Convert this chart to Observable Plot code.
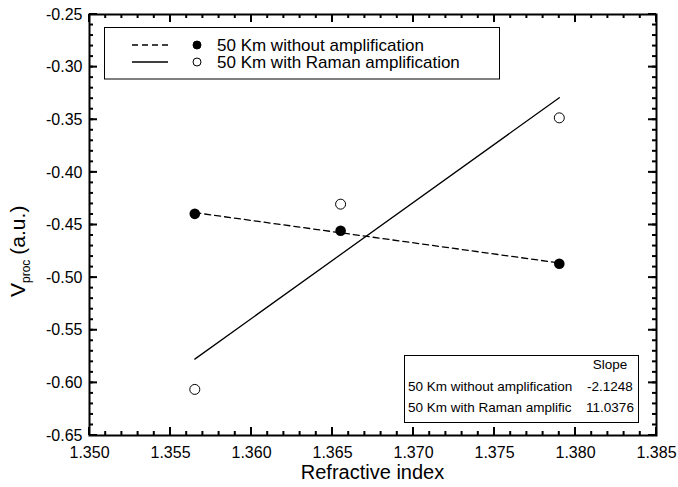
<!DOCTYPE html>
<html>
<head>
<meta charset="utf-8">
<script src="https://cdn.jsdelivr.net/npm/d3@7"></script>
<script src="https://cdn.jsdelivr.net/npm/@observablehq/plot@0.6"></script>
<style>
  html, body { margin: 0; padding: 0; background: #fff; }
  #chart svg { display: block; }
</style>
</head>
<body>
<div id="chart"></div>
<script>
// Refractive index of the three samples (shared by both series)
const refractiveIndex = [1.3565, 1.3655, 1.3790];
// Processed signal over a 50 km link, no amplification
const vprocWithout = [-0.4394, -0.4555, -0.4868];
// Processed signal over a 50 km link with Raman amplification
const vprocRaman = [-0.6062, -0.4302, -0.3482];
// Series names as written in the legend and in the slope table
const legendNames = ["50 Km without amplification", "50 Km with Raman amplification"];
const tableNames = ["50 Km without amplification", "50 Km with Raman amplific"];
// Slopes of the two linear fits
const fitSlopes = [-2.1248, 11.0376];
const slopeLabels = ["-2.1248", "11.0376"];
// Labelled ticks
const xTicks = [1.350, 1.355, 1.360, 1.365, 1.370, 1.375, 1.380, 1.385];
const yTicks = [-0.65, -0.60, -0.55, -0.50, -0.45, -0.40, -0.35, -0.30, -0.25];

const FONT = "'Liberation Sans', Arial, Helvetica, sans-serif";

// minor ticks: four between each pair of labelled ticks
const xMinor = d3.range(0, 36).map(i => 1.35 + i * 0.001);
const yMinor = d3.range(0, 41).map(i => -0.65 + i * 0.01);

const pts = (ys) => refractiveIndex.map((x, i) => ({x, y: ys[i]}));
const withoutPts = pts(vprocWithout);
const ramanPts = pts(vprocRaman);

// straight fit through the centroid with the tabulated slope, over the data range
function fitLine(points, slope) {
  const mx = d3.mean(points, d => d.x), my = d3.mean(points, d => d.y);
  const [x0, x1] = d3.extent(points, d => d.x);
  return [x0, x1].map(x => ({x, y: my + slope * (x - mx)}));
}
const fitWithout = fitLine(withoutPts, fitSlopes[0]);
const fitRaman = fitLine(ramanPts, fitSlopes[1]);

const W = 678, H = 487;
const mL = 89, mR = 22, mT = 14, mB = 52;
const innerW = W - mL - mR, innerH = H - mT - mB;

const chart = Plot.plot({
  width: W,
  height: H,
  marginLeft: mL,
  marginRight: mR,
  marginTop: mT,
  marginBottom: mB,
  style: {fontFamily: FONT, fontSize: "16px", color: "#000", background: "#fff"},
  x: {domain: [1.35, 1.385]},
  y: {domain: [-0.65, -0.25]},
  marks: [
    // tick labels
    Plot.axisX(xTicks, {anchor: "bottom", tickSize: 0, tickPadding: 11, label: null,
      tickFormat: d => d.toFixed(3), fontSize: 16}),
    Plot.axisY(yTicks, {anchor: "left", tickSize: 0, tickPadding: 7, label: null,
      tickFormat: d => d.toFixed(2), fontSize: 16}),
    Plot.frame({stroke: "#000", strokeWidth: 2}),
    // linear fits
    Plot.line(fitWithout, {x: "x", y: "y", stroke: "#000", strokeWidth: 1.3, strokeDasharray: "6,4"}),
    Plot.line(fitRaman, {x: "x", y: "y", stroke: "#000", strokeWidth: 1.3}),
    // measurements
    Plot.dot(withoutPts, {x: "x", y: "y", r: 5.3, fill: "#000", stroke: "none"}),
    Plot.dot(ramanPts, {x: "x", y: "y", r: 5, fill: "#fff", stroke: "#000", strokeWidth: 1})
  ]
});

document.getElementById("chart").appendChild(chart);

const svg = d3.select(chart);
const sx = chart.scale("x"), sy = chart.scale("y");
const frameLeft = mL, frameRight = W - mR, frameTop = mT, frameBottom = H - mB;

// inward-pointing ticks on all four sides, placed with the plot's own scales
const tk = svg.append("g")
  .attr("stroke", "#000").attr("stroke-width", 2).attr("fill", "none");
function drawTicks(xv, yv, size) {
  xv.forEach(v => {
    const px = sx.apply(v);
    tk.append("line").attr("x1", px).attr("x2", px).attr("y1", frameBottom).attr("y2", frameBottom - size);
    tk.append("line").attr("x1", px).attr("x2", px).attr("y1", frameTop).attr("y2", frameTop + size);
  });
  yv.forEach(v => {
    const py = sy.apply(v);
    tk.append("line").attr("y1", py).attr("y2", py).attr("x1", frameLeft).attr("x2", frameLeft + size);
    tk.append("line").attr("y1", py).attr("y2", py).attr("x1", frameRight).attr("x2", frameRight - size);
  });
}
drawTicks(xMinor, yMinor, 4);
drawTicks(xTicks, yTicks, 8);

// axis titles
svg.append("text")
  .attr("x", mL + innerW / 2)
  .attr("y", 479)
  .attr("text-anchor", "middle")
  .attr("font-family", FONT)
  .attr("font-size", 20)
  .attr("fill", "#000")
  .text("Refractive index");

const yl = svg.append("text")
  .attr("transform", "translate(25,297) rotate(-90)")
  .attr("text-anchor", "start")
  .attr("font-family", FONT)
  .attr("font-size", 21)
  .attr("fill", "#000");
yl.append("tspan").text("V");
yl.append("tspan").attr("font-size", 12).attr("dy", 5).text("proc");
yl.append("tspan").attr("dy", -5).attr("dx", 5).text("(a.u.)");

// legend
const lg = svg.append("g")
  .attr("font-family", FONT).attr("font-size", 17).attr("fill", "#000")
  .attr("text-anchor", "start");
lg.append("rect")
  .attr("x", 104.5).attr("y", 27.5).attr("width", 395).attr("height", 51.5)
  .attr("fill", "#fff").attr("stroke", "#000").attr("stroke-width", 1);
const legendRows = [
  {name: legendNames[0], dash: "6,4", fill: "#000", y: 45},
  {name: legendNames[1], dash: null, fill: "#fff", y: 62}
];
legendRows.forEach(r => {
  lg.append("line")
    .attr("x1", 132).attr("x2", 168).attr("y1", r.y).attr("y2", r.y)
    .attr("stroke", "#000").attr("stroke-width", 1.3)
    .attr("stroke-dasharray", r.dash);
  lg.append("circle")
    .attr("cx", 197).attr("cy", r.y).attr("r", 4)
    .attr("fill", r.fill).attr("stroke", "#000").attr("stroke-width", 1);
  lg.append("text")
    .attr("x", 217).attr("y", r.y + 6)
    .attr("text-anchor", "start")
    .text(r.name);
});

// slope table
const tb = svg.append("g")
  .attr("font-family", FONT).attr("font-size", 13.5).attr("fill", "#000")
  .attr("text-anchor", "start");
tb.append("rect")
  .attr("x", 404.5).attr("y", 355.5).attr("width", 234).attr("height", 67)
  .attr("fill", "#fff").attr("stroke", "#000").attr("stroke-width", 1);
tb.append("text").attr("x", 610).attr("y", 364 + 4.9).attr("text-anchor", "middle").text("Slope");
tableNames.forEach((name, i) => {
  const y = 386 + i * 21 + 4.9;
  tb.append("text").attr("x", 408).attr("y", y).attr("text-anchor", "start").text(name);
  tb.append("text").attr("x", 610).attr("y", y).attr("text-anchor", "middle").text(slopeLabels[i]);
});
</script>
</body>
</html>
